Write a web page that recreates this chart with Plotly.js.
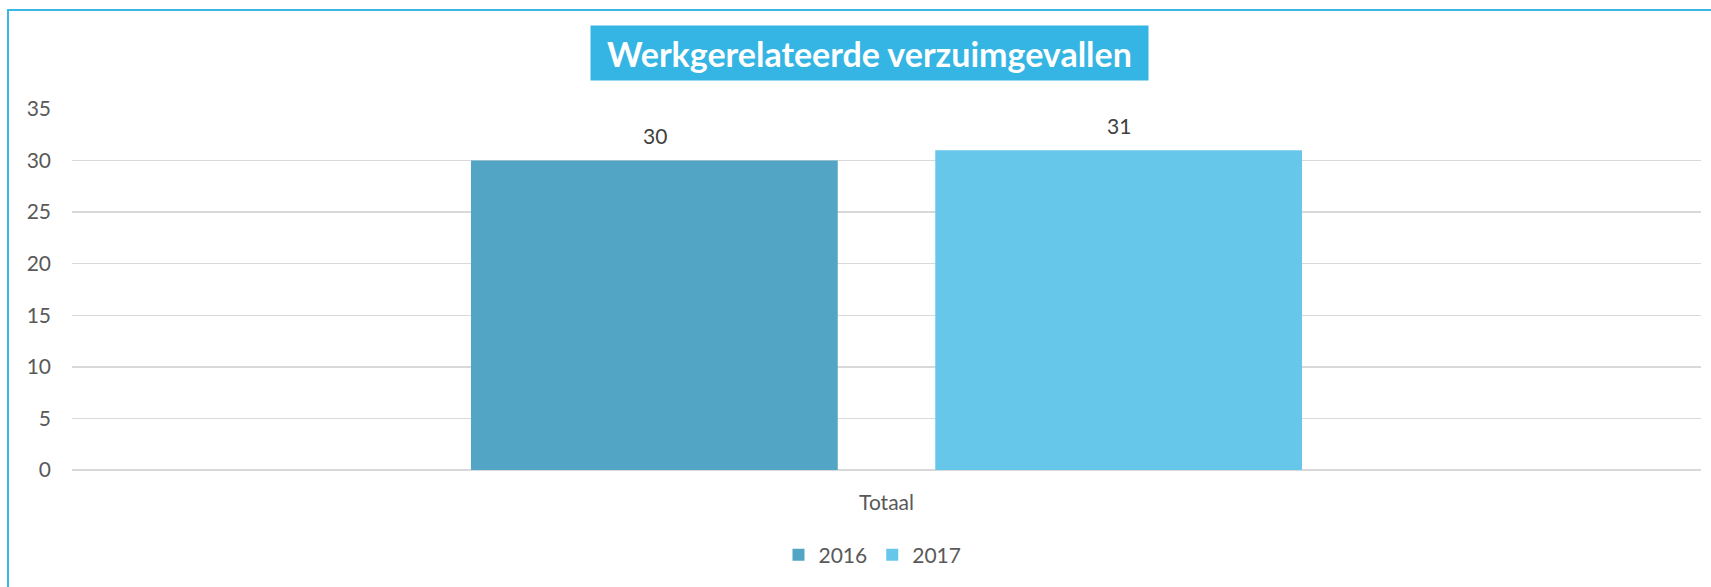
<!DOCTYPE html>
<html>
<head>
<meta charset="utf-8">
<script src="https://cdn.plot.ly/plotly-3.0.1.min.js"></script>
<style>
  html, body { margin: 0; padding: 0; background: #ffffff; overflow: hidden; }
  #wrap { position: relative; width: 1711px; height: 587px; }
  #chart { position: absolute; left: 0; top: 0; width: 1711px; height: 587px; }
  #frame { position: absolute; left: 7px; top: 9px; width: 1720px; height: 600px;
           border-left: 2px solid #3BB7E3; border-top: 2px solid #3BB7E3; pointer-events: none; }
</style>
</head>
<body>
<div id="wrap">
  <div id="chart"></div>
  <div id="frame"></div>
</div>
<script>
const categories = ["Totaal"];
const seriesNames = ["2016", "2017"];
const values2016 = [30];
const values2017 = [31];
const titleText = "Werkgerelateerde verzuimgevallen";
const yTicks = [0, 5, 10, 15, 20, 25, 30, 35];

const FONT = "Lato, 'Open Sans', sans-serif";
const seriesValues = [values2016, values2017];
const seriesColors = ["#53A5C5", "#67C7EB"];

const traces = seriesValues.map((vals, i) => ({
  type: "bar", name: seriesNames[i], x: categories, y: vals,
  marker: { color: seriesColors[i] },
  hoverinfo: "skip"
}));

// data labels placed above each bar (group offset = half of a bar slot)
const slotHalf = 232;
const labelAnns = [];
seriesValues.forEach((vals, i) => {
  vals.forEach((v, j) => {
    labelAnns.push({
      xref: "x", yref: "y", x: categories[j], y: v,
      xshift: (i === 0 ? -slotHalf : slotHalf), yshift: 25,
      xanchor: "center", yanchor: "middle", showarrow: false,
      text: String(v),
      font: { family: FONT, size: 21, color: "#404040" }
    });
  });
});

const layout = {
  width: 1711, height: 587,
  margin: { l: 72, r: 10, t: 109, b: 117, pad: 0 },
  paper_bgcolor: "#ffffff", plot_bgcolor: "#ffffff",
  font: { family: FONT, size: 21, color: "#595959" },
  barmode: "group",
  bargap: 0.43,
  bargroupgap: 0.21,
  showlegend: true,
  legend: {
    orientation: "h", x: 0.4914, xanchor: "center", y: -0.2355, yanchor: "middle",
    font: { family: FONT, size: 21, color: "#595959" },
    itemwidth: 30, traceorder: "normal"
  },
  xaxis: {
    showgrid: false, zeroline: false, showline: false, ticks: "",
    tickfont: { family: FONT, size: 21, color: "#595959" },
    ticklabelstandoff: 18
  },
  yaxis: {
    range: [0, 35], tickvals: yTicks, ticktext: yTicks.map(String),
    showgrid: true, gridcolor: "#D9D9D9", gridwidth: 1.5,
    zeroline: true, zerolinecolor: "#D9D9D9", zerolinewidth: 1.5,
    showline: false, ticks: "",
    tickfont: { family: FONT, size: 21, color: "#595959" },
    ticklabelstandoff: 20
  },
  annotations: [
    {
      text: "<b>" + titleText + "</b>",
      xref: "paper", yref: "paper",
      x: (869.5 - 72) / 1629, y: (470 - 53) / 361,
      xanchor: "center", yanchor: "middle",
      showarrow: false,
      bgcolor: "#35B5E3",
      width: 547, height: 44, borderpad: 5,
      font: { family: FONT, size: 34, color: "#ffffff" }
    }
  ].concat(labelAnns)
};

Plotly.newPlot("chart", traces, layout, { displayModeBar: false, staticPlot: true });
</script>
</body>
</html>
